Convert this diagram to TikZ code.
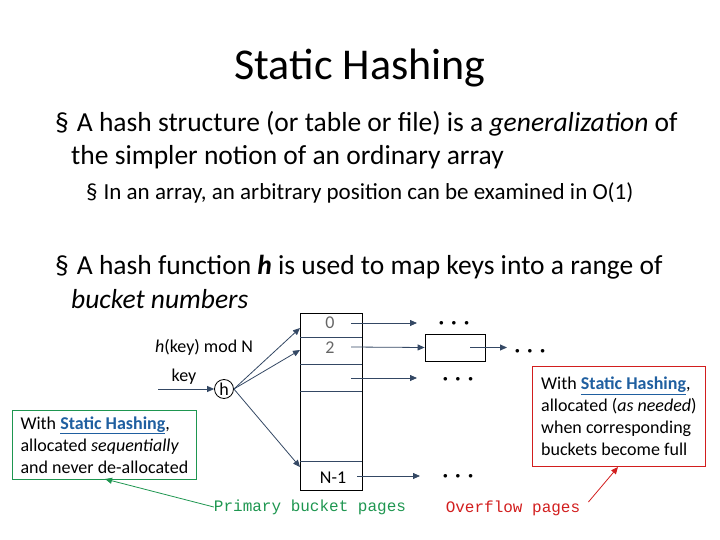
\documentclass[tikz,border=0pt]{standalone}
\usepackage{fontspec}
\setmainfont{Carlito}
\newfontfamily\monofont{Liberation Mono}
\usetikzlibrary{arrows.meta,positioning}
\definecolor{linkblue}{RGB}{31,95,160}
\definecolor{arrowblue}{RGB}{52,72,100}
\definecolor{notegreen}{RGB}{30,150,80}
\definecolor{notered}{RGB}{210,30,30}
\newcommand{\shlink}{\textcolor{linkblue}{\underline{\textbf{Static Hashing}}}}
\newcommand{\threedots}{$\bullet\hspace{6pt}\bullet\hspace{6pt}\bullet$}
\begin{document}
\begin{tikzpicture}[
    x=1pt, y=-1pt,
    txt/.style={anchor=west, inner sep=0pt, font=\fontsize{27.5}{32}\selectfont},
    subtxt/.style={anchor=west, inner sep=0pt, font=\fontsize{23}{27}\selectfont},
    small/.style={inner sep=0pt, font=\fontsize{18}{21}\selectfont},
    ptr/.style={-{Triangle[length=7pt,width=6pt]}, thick, arrowblue},
    note/.style={draw=#1, thick, align=left, anchor=north west, inner sep=3pt, font=\fontsize{18}{22}\selectfont},
    dots/.style={inner sep=0pt, font=\small}
]
\useasboundingbox (0,0) rectangle (720,540);

% Title and bullets
\node[inner sep=0pt, font=\fontsize{44}{48}\selectfont] (title) at (360,68) {Static Hashing};
\node[txt] (b1) at (55,124) {§\hspace{8pt}A hash structure (or table or file) is a \emph{generalization} of};
\node[txt] (b1b) at (71,157) {the simpler notion of an ordinary array};
\node[subtxt] (b2) at (86,193) {§\hspace{6pt}In an array, an arbitrary position can be examined in O(1)};
\node[txt] (b3) at (55,267) {§\hspace{8pt}A hash function \textbf{\emph{h}} is used to map keys into a range of};
\node[txt] (b3b) at (71,299) {\emph{bucket numbers}};

% Primary bucket table
\draw[thick] (300,313) rectangle (362,490);
\foreach \yy in {337,364,391,461} \draw[thick, arrowblue] (300,\yy) -- (362,\yy);
\node[small, gray!80!black] (r0) at (330,323) {0};
\node[small, gray!80!black] (r2) at (330,348) {2};
\node[small] (rn) at (333,478) {N-1};
\coordinate (e0) at (300,328);
\coordinate (e2) at (300,350);
\coordinate (en) at (300,467);

% hash function
\node[draw, thick, circle, inner sep=1pt, minimum size=19pt, small] (h) at (224,389) {h};
\coordinate (kin) at (158,389);
\node[small] (key) at (184,377) {key};
\node[small] (hk) at (204,347) {\emph{h}(key) mod N};
\draw[ptr] (kin) -- (h);
\draw[ptr] (h.east) -- (e0);
\draw[ptr] (h.east) -- (e2);
\draw[ptr] (h.east) -- (en);

% Overflow pointers
\coordinate (o0) at (351,323);
\coordinate (o2) at (351,347);
\coordinate (o3) at (351,378);
\coordinate (on) at (357,476);
\node[draw, thick, minimum width=60pt, minimum height=27pt, inner sep=0pt] (ovf) at (455,347.5) {};
\coordinate (t0) at (417,323);
\coordinate (t3) at (417,378);
\coordinate (tn) at (420,476);
\draw[ptr] (o0) -- (t0);
\draw[ptr] (o2) -- (ovf.west);
\draw[ptr] (o3) -- (t3);
\draw[ptr] (on) -- (tn);
\node[dots] (d0) at (454,323) {\threedots};
\node[dots] (d3) at (458,379) {\threedots};
\node[dots] (dn) at (458,476) {\threedots};
\coordinate (ob) at (470,347.5);
\coordinate (obt) at (507,347.5);
\draw[ptr] (ob) -- (obt);
\node[dots] (d2) at (530,351) {\threedots};

% Notes
\node[note=notegreen, minimum width=184pt, minimum height=69pt] (gnote) at (12,410)
  {With \shlink,\\allocated \emph{sequentially}\\and never de-allocated};
\node[note=notered, minimum width=173pt, minimum height=100pt] (rnote) at (532,366)
  {With \shlink,\\allocated (\emph{as needed})\\when corresponding\\buckets become full};
\node[inner sep=0pt, text=notegreen, font=\monofont\fontsize{16}{18}\selectfont] (prim) at (310,507) {Primary bucket pages};
\node[inner sep=0pt, text=notered, font=\monofont\fontsize{16}{18}\selectfont] (ovfl) at (513,508) {Overflow pages};
\draw[-{Triangle[length=7pt,width=6pt]}, thick, notegreen] (prim.west) -- (105,479);
\draw[-{Triangle[length=7pt,width=6pt]}, thick, notered] (ovfl.east) ++(8,-6) -- (618,467);
\end{tikzpicture}
\end{document}
